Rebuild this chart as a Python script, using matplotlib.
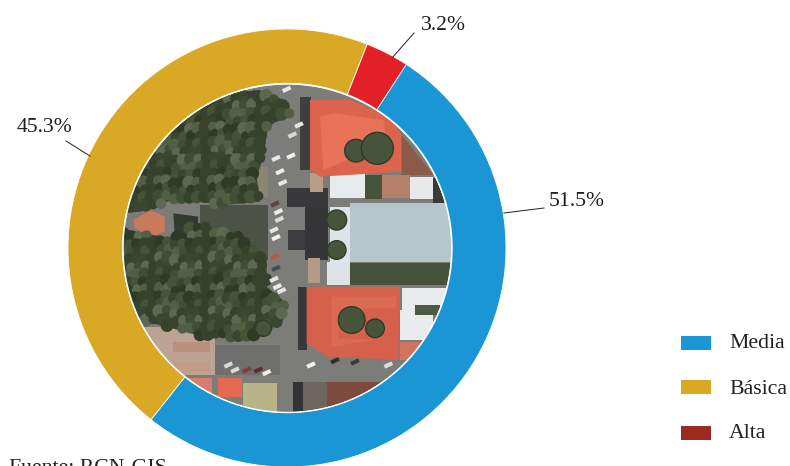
"""
Donut chart with an aerial photo sketched in the hole.
"""

import matplotlib
matplotlib.use("Agg")
import matplotlib.pyplot as plt
import matplotlib.patches as patches
from matplotlib.path import Path

plt.rcParams["font.family"] = ["Liberation Serif", "DejaVu Serif"]

W, H = 790, 466
TEXT = "#231f20"

# data
categories = ["Media", "Básica", "Alta"]
values = [51.5, 45.3, 3.2]
ring_colors = ["#1b96d4", "#d9a925", "#e32028"]
legend_colors = ["#1b96d4", "#d9a925", "#9b2a20"]
source = "Fuente: RCN-GIS"

# photo shapes, in coordinates of a 1020 box around the hole
TREES_TOP = [(370, 30), (500, 60), (510, 110), (445, 135), (430, 230), (410, 290),
             (420, 365), (310, 375), (170, 355), (60, 395), (0, 400), (0, 0), (370, 0)]
TREES_LOW = [(0, 445), (150, 475), (230, 430), (350, 465), (440, 530), (440, 620),
             (500, 670), (490, 720), (400, 770), (250, 770), (100, 730), (0, 690)]
RECTS = [
    # x0, y0, x1, y1, colour
    (60, 740, 285, 885, "#bda393"),
    (160, 785, 270, 815, "#b98f7e"),
    (160, 845, 270, 875, "#c39c87"),
    (285, 795, 480, 885, "#6f6f6d"),
    (240, 375, 445, 540, "#4c5246"),
    (410, 260, 445, 350, "#8a8672"),
    (540, 50, 572, 270, "#3f3f40"),
    (500, 325, 625, 380, "#38383a"),
    (555, 380, 625, 540, "#353537"),
    (505, 450, 555, 510, "#3c3c3e"),
    (570, 280, 610, 335, "#b79c88"),
    (565, 535, 600, 610, "#b59a85"),
    (630, 280, 735, 355, "#e6ebee"),
    (735, 285, 785, 358, "#46553a"),
    (785, 285, 870, 355, "#b5806a"),
    (870, 290, 940, 358, "#e8e9ea"),
    (940, 295, 980, 368, "#3a3a3a"),
    (630, 380, 690, 545, "#dde4e8"),
    (690, 370, 1000, 545, "#b5c6cc"),
    (620, 545, 690, 615, "#dde3e6"),
    (690, 548, 995, 615, "#44533a"),
    (535, 620, 560, 810, "#38383a"),
    (655, 685, 790, 775, "#3d4a32"),
    (705, 710, 760, 770, "#a9cdd1"),
    (845, 625, 985, 690, "#e9ecee"),
    (840, 690, 940, 780, "#e9ecee"),
    (885, 675, 960, 705, "#4c5a40"),
    (840, 785, 905, 840, "#d4735c"),
    (200, 895, 275, 945, "#d77f6c"),
    (295, 895, 365, 950, "#e56a4f"),
    (370, 910, 470, 1000, "#b9b388"),
    (520, 905, 550, 1000, "#333335"),
    (550, 905, 620, 1000, "#6d665f"),
    (620, 905, 780, 980, "#7d4a3c"),
]
ROOFS = [
    ([(570, 60), (690, 60), (810, 110), (845, 165), (845, 275), (600, 290), (570, 270)], "#dc634c"),
    ([(640, 100), (790, 120), (800, 180), (660, 250), (610, 270), (600, 110)], "#e8725a"),
    ([(845, 165), (940, 285), (845, 285)], "#8b5a48"),
    ([(560, 620), (840, 620), (835, 840), (620, 830), (560, 790)], "#d5614c"),
    ([(635, 650), (830, 650), (825, 685), (655, 685), (655, 775), (760, 780), (635, 800)], "#dc6b55"),
    ([(40, 420), (90, 390), (135, 410), (135, 455), (95, 470), (45, 445)], "#c9795c"),
    ([(160, 400), (235, 410), (230, 470), (165, 480)], "#333a30"),
]
BLOBS = [(708, 212, 34), (772, 205, 48), (650, 420, 30), (650, 510, 28),
         (695, 720, 40), (765, 745, 28), (430, 745, 24)]
CARS = [
    (500, 28, "#e8e8e4"), (537, 135, "#e8e8e4"), (517, 165, "#d8d8d4"), (513, 228, "#f0f0ec"),
    (468, 235, "#e8e8e4"), (480, 275, "#f0f0ec"), (488, 308, "#e8e8e4"), (465, 372, "#5a4540"),
    (475, 395, "#ecece8"), (478, 418, "#dcdcd8"), (462, 450, "#e8e8e4"), (468, 473, "#f0f0ec"),
    (465, 530, "#c0573c"), (468, 565, "#444a55"), (462, 598, "#e4e4e0"), (472, 620, "#ecece8"),
    (485, 632, "#e4e4e0"), (395, 40, "#3a3a3a"),
    (573, 855, "#f0f0ec"), (645, 842, "#2f2f2f"), (705, 846, "#3a3a3a"), (805, 855, "#dcdcd8"),
    (325, 855, "#d8d8d4"), (345, 870, "#dcdcd8"), (380, 870, "#8c3a3a"), (415, 870, "#5a3030"),
    (440, 878, "#ecece8"),
]
GREENS = ["#3a4630", "#465339", "#37422d", "#525f44", "#303a27", "#414e36", "#5c6850"]


def draw_trees(ax, outline, clip):
    """Fill a tree area with overlapping dark and light crowns."""
    shape = Path(outline + [outline[0]])
    ax.add_patch(patches.Polygon(outline, facecolor="#39452f", edgecolor="none", clip_path=clip))
    for i in range(0, 46):
        for j in range(0, 46):
            x = i * 23 + (j * 7) % 13
            y = j * 23 + (i * 11) % 13
            if not shape.contains_point((x, y)):
                continue
            shade = GREENS[(i * i + 3 * j + i * j) % len(GREENS)]
            ax.add_patch(patches.Circle((x, y), 15 + (i + 2 * j) % 6, facecolor=shade,
                                        edgecolor="none", clip_path=clip))


fig = plt.figure(figsize=(W / 100, H / 100), dpi=100, facecolor="white")

# the photo sits under the ring
photo = fig.add_axes([120 / W, (H - 420) / H, 340 / W, 340 / H])
photo.set_xlim(0, 1020)
photo.set_ylim(1020, 0)
photo.axis("off")
hole = patches.Circle((502, 507), 493, facecolor="#7c7c79", edgecolor="none")
photo.add_patch(hole)

for x0, y0, x1, y1, color in RECTS:
    photo.add_patch(patches.Rectangle((x0, y0), x1 - x0, y1 - y0, facecolor=color,
                                      edgecolor="none", clip_path=hole))
for outline, color in ROOFS:
    photo.add_patch(patches.Polygon(outline, facecolor=color, edgecolor="none", clip_path=hole))
draw_trees(photo, TREES_TOP, hole)
draw_trees(photo, TREES_LOW, hole)
for x, y, r in BLOBS:
    photo.add_patch(patches.Circle((x, y), r, facecolor="#46553a", edgecolor="#2f3a28",
                                   linewidth=1, clip_path=hole))
for x, y, color in CARS:
    photo.add_patch(patches.Rectangle((x - 13, y - 6), 26, 12, angle=-25, rotation_point="center",
                                      facecolor=color, edgecolor="none", clip_path=hole))

# ring and texts, in picture pixels
ax = fig.add_axes([0, 0, 1, 1], zorder=2)
ax.patch.set_alpha(0)
wedges, _ = ax.pie(values, colors=ring_colors, center=(287, H - 248), radius=219,
                   startangle=57, counterclock=False, frame=False,
                   wedgeprops=dict(width=54.5, edgecolor="white", linewidth=0.6))
ax.set_xlim(0, W)
ax.set_ylim(0, H)
ax.set_aspect("auto")
ax.axis("off")
ax.add_patch(patches.Circle((287.5, H - 248), 164.5, facecolor="none", edgecolor="white", linewidth=1))

label_spots = [(549, H - 202, "left"), (72, H - 127, "right"), (443, H - 25, "center")]
leader_lines = [((504, 213), (544, 208)), ((90, 156), (66, 141)), ((392, 58), (414, 33))]
for value, (x, y, ha), (start, end) in zip(values, label_spots, leader_lines):
    ax.text(x, y, f"{value}%", ha=ha, va="center", fontsize=15.6, color=TEXT)
    ax.plot([start[0], end[0]], [H - start[1], H - end[1]], color=TEXT, linewidth=0.7)

legend_y = [342.5, 387, 433]
text_y = [344, 389, 434]
for name, color, y, ty in zip(categories, legend_colors, legend_y, text_y):
    ax.add_patch(patches.Rectangle((680.5, H - y - 7), 30.5, 14, facecolor=color, edgecolor="none"))
    ax.text(729, H - ty, name, ha="left", va="center", fontsize=15.7, color=TEXT)

ax.text(9, H - 473, source, ha="left", va="baseline", fontsize=15.7, color=TEXT, clip_on=False)

fig.savefig("out.png", dpi=100)
plt.close(fig)
